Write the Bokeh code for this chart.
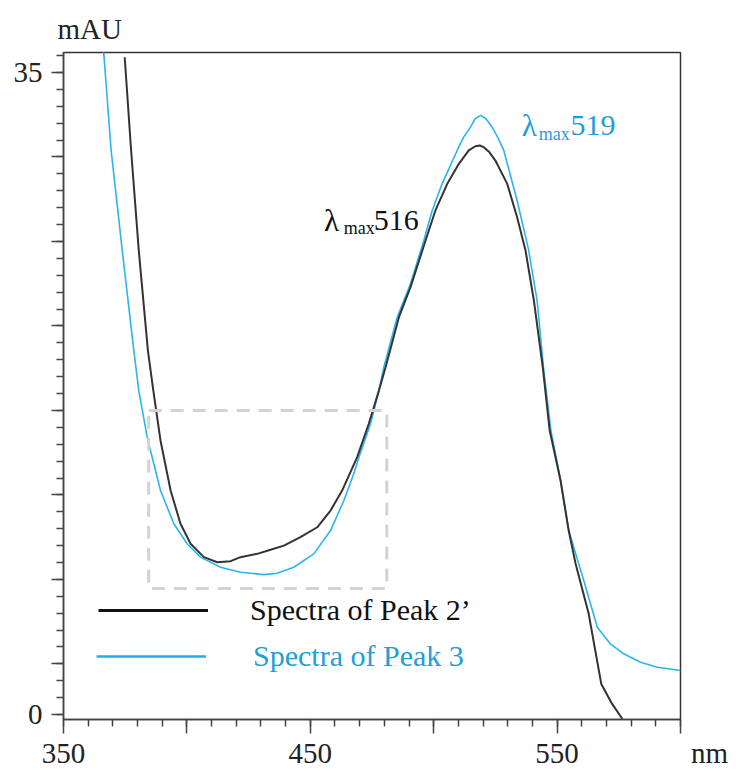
import math
from bokeh.plotting import figure
from bokeh.models import Range1d, FixedTicker, Label, Legend, LegendItem, BoxAnnotation
from bokeh.embed import file_html
from bokeh.resources import INLINE

# ---------------- data ----------------
peak3_nm = [366.3, 369.3, 373.8, 378.5, 380.5, 383.9, 389.3, 394.7, 400.1, 405.5,
            413.6, 421.7, 431.2, 436.6, 443.3, 451.4, 458.2, 463.6, 467.6, 469.7,
            474.4, 477.8, 479.8, 485.2, 490.6, 496.0, 499.4, 503.4, 509.5, 512.0,
            514.9, 516.8, 519.0, 521.2, 523.7, 526.0, 528.4, 533.8, 538.5, 541.9,
            544.7, 547.5, 551.4, 554.7, 560.8, 566.3, 571.6, 577.0, 583.8, 590.6,
            600.0]
peak3_mau = [36.09, 30.75, 25.30, 19.84, 17.66, 15.12, 12.21, 10.40, 9.31, 8.58,
             8.03, 7.76, 7.63, 7.70, 8.03, 8.76, 10.03, 11.67, 13.12, 14.03,
             15.85, 17.66, 18.93, 21.66, 23.48, 25.84, 27.48, 28.93, 30.75, 31.45,
             32.02, 32.48, 32.66, 32.48, 32.02, 31.45, 30.75, 28.02, 25.30, 22.57,
             18.64, 15.48, 12.76, 10.03, 7.31, 4.76, 3.85, 3.31, 2.85, 2.58,
             2.40]

peak2_nm = [374.8, 377.4, 380.5, 384.2, 386.4, 389.3, 393.4, 397.4, 401.5, 406.9,
            412.3, 417.7, 421.7, 428.5, 433.9, 439.3, 446.0, 452.8, 458.2, 462.9,
            469.0, 473.7, 477.8, 480.5, 485.9, 490.6, 496.7, 497.6, 500.7, 505.5,
            510.2, 514.2, 516.9, 518.6, 520.3, 522.6, 525.0, 529.8, 533.8, 537.2,
            540.6, 544.2, 547.0, 551.4, 554.7, 557.5, 562.8, 567.9, 572.3, 576.4]
peak2_mau = [35.83, 30.75, 25.30, 19.84, 17.66, 14.94, 12.21, 10.40, 9.31, 8.58,
             8.30, 8.36, 8.58, 8.76, 8.98, 9.21, 9.67, 10.21, 11.12, 12.21,
             14.03, 15.85, 17.66, 18.93, 21.66, 23.30, 25.84, 26.21, 27.48, 28.93,
             30.02, 30.75, 30.98, 31.02, 30.93, 30.65, 30.20, 28.93, 27.11, 25.30,
             22.57, 18.93, 15.48, 12.76, 10.03, 8.22, 5.49, 1.67, 0.58, -0.23]

series_labels = ["Spectra of Peak 2\u2019", "Spectra of Peak 3"]
x_unit, y_unit = "nm", "mAU"
# the unit "nm" sits to the right of the last tick (padded with no-break spaces)
x_tick_labels = {350: "350", 400: "", 450: "450", 500: "", 550: "550",
                 600: "\u00a0" * 8 + x_unit}
y_label_top, y_label_bottom = "35", "0"
lambda_peak2, lambda_peak3 = "516", "519"
box_nm = (384.5, 481.0)
box_mau = (6.87, 16.57)

BLACK = "#333333"
BLUE = "#2bb5ee"
BLUE_TXT = "#1e9fd8"
FONT = "'Liberation Serif', 'Times New Roman', 'DejaVu Serif', serif"

# ---------------- figure ----------------
p = figure(frame_width=617, frame_height=667,
           x_range=Range1d(350, 600), y_range=Range1d(-0.27, 36.09),
           output_backend="svg", toolbar_location=None,
           min_border_left=63, min_border_right=56,
           min_border_top=52, min_border_bottom=48)
p.background_fill_color = "white"
p.border_fill_color = "white"
p.outline_line_color = "#333333"
p.outline_line_width = 1.5
p.xgrid.visible = False
p.ygrid.visible = False

# unit of the y axis as a left-aligned title above the frame
p.title.text = y_unit
p.title.align = "left"
p.title.offset = -6
p.title.standoff = 16
p.title.text_font = FONT
p.title.text_font_size = "29px"
p.title.text_font_style = "normal"
p.title.text_color = "#222222"

# x axis
p.xaxis.ticker = FixedTicker(ticks=[350, 400, 450, 500, 550, 600],
                             minor_ticks=list(range(350, 601, 10)))
p.xaxis.major_label_overrides = x_tick_labels
p.xaxis.major_tick_out = 14
p.xaxis.major_tick_in = 0
p.xaxis.minor_tick_out = 7
p.xaxis.minor_tick_in = 0
p.xaxis.major_label_standoff = 3

# y axis: tick unit = 35/38 (as drawn in the reference)
u = 35.0 / 38.0
y_major = [0.0] + [35.0 - 5 * k * u for k in range(8)]
y_minor = [35.0 - k * u for k in range(-1, 39)]
p.yaxis.ticker = FixedTicker(ticks=y_major, minor_ticks=y_minor)
p.yaxis.major_label_overrides = {t: "" for t in y_major}
p.yaxis.major_label_overrides[0.0] = y_label_bottom
p.yaxis.major_label_overrides[35.0] = y_label_top
p.yaxis.major_tick_out = 12
p.yaxis.major_tick_in = 0
p.yaxis.minor_tick_out = 7
p.yaxis.minor_tick_in = 0
p.yaxis.major_label_standoff = 9

for ax in (p.xaxis, p.yaxis):
    ax.axis_line_color = "#444444"
    ax.axis_line_width = 1.5
    ax.major_tick_line_color = "#444444"
    ax.major_tick_line_width = 1.5
    ax.minor_tick_line_color = "#444444"
    ax.minor_tick_line_width = 1.5
    ax.major_label_text_font = FONT
    ax.major_label_text_font_size = "29px"
    ax.major_label_text_color = "#222222"

# dashed box
p.add_layout(BoxAnnotation(left=box_nm[0], right=box_nm[1], bottom=box_mau[0], top=box_mau[1],
                           fill_alpha=0, line_color="#d3d3d3", line_alpha=1.0, line_width=3,
                           line_dash="13 9"))

# curves
r3 = p.line(peak3_nm, peak3_mau, line_color=BLUE, line_width=1.6)
r2 = p.line(peak2_nm, peak2_mau, line_color=BLACK, line_width=2.0)

# legend swatches (renderers that draw nothing in the frame, thicker lines as in the reference)
s2 = p.line([math.nan], [math.nan], line_color="#111111", line_width=2.8)
s3 = p.line([math.nan], [math.nan], line_color="#1fb0ea", line_width=2.6)

# red mark at the Peak 3 maximum
imax = peak3_mau.index(max(peak3_mau))
p.scatter([peak3_nm[imax]], [peak3_mau[imax]], marker="dash", angle=math.pi / 2,
          size=6, line_color="#ff5555", line_width=1)

# legends (one per item so each text keeps its own colour)
leg1 = Legend(items=[LegendItem(label=series_labels[0], renderers=[s2], index=0)],
              location=(35, 92), glyph_width=110, glyph_height=30, label_height=30,
              label_standoff=42, padding=0, margin=0, border_line_alpha=0,
              background_fill_alpha=0, label_text_font=FONT,
              label_text_font_size="30px", label_text_color="#111111")
leg2 = Legend(items=[LegendItem(label=series_labels[1], renderers=[s3], index=0)],
              location=(33, 46), glyph_width=110, glyph_height=30, label_height=30,
              label_standoff=47, padding=0, margin=0, border_line_alpha=0,
              background_fill_alpha=0, label_text_font=FONT,
              label_text_font_size="30px", label_text_color=BLUE_TXT)
p.add_layout(leg1)
p.add_layout(leg2)


def lab(x, y, text, size, color):
    p.add_layout(Label(x=x, y=y, text=text, text_font=FONT, text_font_size=size,
                       text_color=color, text_align="left", text_baseline="alphabetic"))


# lambda max annotations
lab(455.6, 26.93, "\u03bb", "31px", "#111111")
lab(463.6, 26.50, "max", "18px", "#111111")
lab(475.7, 26.93, lambda_peak2, "30px", "#111111")

lab(535.7, 32.11, "\u03bb", "31px", BLUE_TXT)
lab(542.6, 31.65, "max", "18px", BLUE_TXT)
lab(555.4, 32.11, lambda_peak3, "30px", BLUE_TXT)

open("out.html", "w").write(file_html(p, INLINE))
